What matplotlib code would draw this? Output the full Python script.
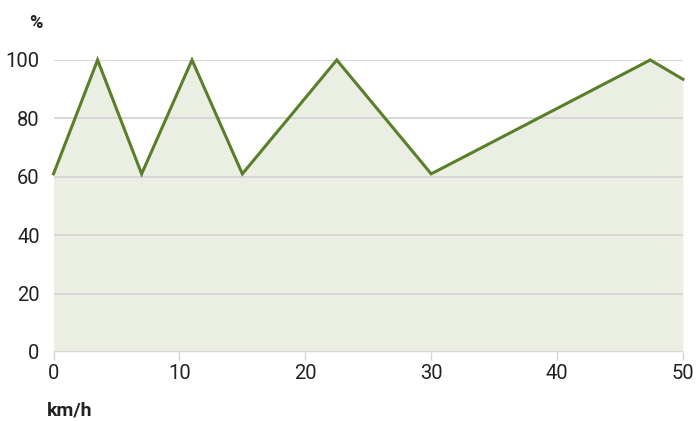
import matplotlib.pyplot as plt

speed = [0, 3.5, 7, 11, 15, 22.5, 30, 47.4, 50]
share = [61, 100, 61, 100, 61, 100, 61, 100, 93.4]
xticks = [0, 10, 20, 30, 40, 50]
yticks = [0, 20, 40, 60, 80, 100]

plt.rcParams['font.family'] = ['Roboto', 'DejaVu Sans']

fig = plt.figure(figsize=(6.96, 4.21), dpi=100)
ax = fig.add_axes([0.0769, 0.1639, 0.9044, 0.6936])

ax.fill_between(speed, share, 0, color='#ebeee3', lw=0, zorder=1)
ax.plot(speed, share, color='#5a7f2a', lw=2.2, zorder=3, clip_on=False,
        solid_joinstyle='miter')

ax.set_xlim(0, 50)
ax.set_ylim(0, 100)
ax.set_xticks(xticks)
ax.set_yticks(yticks)
ax.grid(axis='y', color='#d4d4d4', lw=1.3, zorder=2)
ax.set_axisbelow(False)
for s in ax.spines.values():
    s.set_visible(False)
ax.tick_params(axis='y', length=0, pad=10, labelsize=14.5, labelcolor='#222222')
ax.tick_params(axis='x', length=6, width=1, color='#d4d4d4', pad=3,
               labelsize=14.5, labelcolor='#222222')

fig.text(0.052, 0.945, '%', fontsize=13, fontweight='bold', ha='center', va='center',
         color='#222222')
fig.text(0.068, 0.026, 'km/h', fontsize=14, fontweight='bold', ha='left', va='center',
         color='#222222')

fig.savefig('out.png', dpi=100)
